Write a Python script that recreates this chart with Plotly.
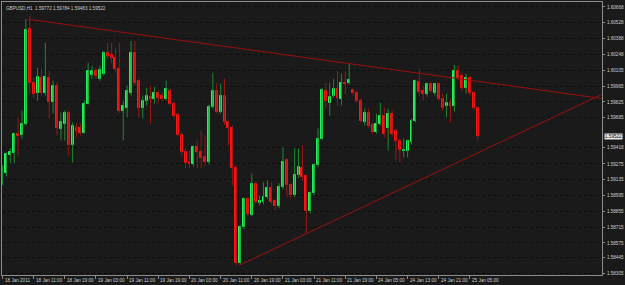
import plotly.graph_objects as go

# ---------------- data (GBPUSD, H1) ----------------
bar_index = list(range(123))

opens = [1.59103, 1.59192, 1.59351, 1.59369, 1.59545, 1.59528, 1.59634, 1.60473, 1.59996, 1.59908,
         1.60040, 1.59908, 1.60040, 1.59828, 1.59970, 1.59581, 1.59634, 1.59731, 1.59439, 1.59598,
         1.59598, 1.59554, 1.59811, 1.60067, 1.60102, 1.60031, 1.60076, 1.60261, 1.60244, 1.60217,
         1.60120, 1.59749, 1.59775, 1.59908, 1.60261, 1.60014, 1.59775, 1.59837, 1.59872, 1.59855,
         1.59908, 1.59881, 1.59855, 1.59925, 1.59811, 1.59713, 1.59536, 1.59377, 1.59289, 1.59271,
         1.59422, 1.59377, 1.59333, 1.59289, 1.59784, 1.59925, 1.59740, 1.59881, 1.59643, 1.59598,
         1.59236, 1.58396, 1.58714, 1.58962, 1.58820, 1.59094, 1.58927, 1.58935, 1.58980, 1.59059,
         1.58944, 1.58900, 1.59068, 1.59307, 1.59086, 1.58997, 1.59174, 1.59236, 1.59165, 1.58856,
         1.59015, 1.59262, 1.59501, 1.59925, 1.59819, 1.59881, 1.59943, 1.59855, 1.59996, 1.59996,
         1.59934, 1.59908, 1.59837, 1.59651, 1.59731, 1.59625, 1.59563, 1.59634, 1.59704, 1.59598,
         1.59722, 1.59572, 1.59483, 1.59386, 1.59386, 1.59466, 1.59660, 1.60005, 1.59925, 1.59899,
         1.59987, 1.59908, 1.59987, 1.59855, 1.59793, 1.59819, 1.59793, 1.60102, 1.60058, 1.59952,
         1.60040, 1.59908, 1.59772]

highs = [1.59262, 1.59377, 1.59413, 1.59554, 1.59687, 1.59749, 1.60562, 1.60588, 1.60040, 1.60129,
         1.60120, 1.60350, 1.60102, 1.60014, 1.59996, 1.59731, 1.59749, 1.59749, 1.59643, 1.59634,
         1.59634, 1.59837, 1.60173, 1.60146, 1.60129, 1.60146, 1.60279, 1.60350, 1.60350, 1.60306,
         1.60350, 1.59837, 1.59970, 1.60367, 1.60367, 1.60031, 1.59881, 1.59952, 1.59970, 1.59961,
         1.59925, 1.59908, 1.60014, 1.59943, 1.59828, 1.59731, 1.59554, 1.59413, 1.59395, 1.59439,
         1.59483, 1.59572, 1.59528, 1.59802, 1.60085, 1.59996, 1.59987, 1.60031, 1.59660, 1.59616,
         1.59262, 1.58732, 1.58980, 1.58980, 1.59192, 1.59112, 1.58997, 1.59112, 1.59130, 1.59112,
         1.58962, 1.59103, 1.59422, 1.59324, 1.59103, 1.59413, 1.59413, 1.59439, 1.59183, 1.59033,
         1.59280, 1.59590, 1.59952, 1.59996, 1.59996, 1.60031, 1.60102, 1.60076, 1.60102, 1.60164,
         1.59943, 1.59925, 1.59855, 1.59766, 1.59766, 1.59643, 1.59722, 1.59819, 1.59775, 1.59766,
         1.59749, 1.59590, 1.59501, 1.59501, 1.59492, 1.59678, 1.60023, 1.60120, 1.59970, 1.59996,
         1.60005, 1.59996, 1.59996, 1.59899, 1.59899, 1.59855, 1.60155, 1.60146, 1.60085, 1.60076,
         1.60058, 1.59925, 1.59784]

lows = [1.59086, 1.59165, 1.59280, 1.59280, 1.59351, 1.59501, 1.59616, 1.59899, 1.59864, 1.59837,
        1.59881, 1.59881, 1.59678, 1.59722, 1.59528, 1.59483, 1.59483, 1.59351, 1.59289, 1.59510,
        1.59528, 1.59545, 1.59802, 1.60031, 1.60031, 1.60014, 1.60058, 1.60208, 1.60173, 1.60085,
        1.59731, 1.59483, 1.59687, 1.59881, 1.59970, 1.59687, 1.59678, 1.59793, 1.59634, 1.59811,
        1.59811, 1.59837, 1.59837, 1.59793, 1.59678, 1.59519, 1.59351, 1.59236, 1.59236, 1.59254,
        1.59236, 1.59236, 1.59262, 1.59271, 1.59766, 1.59722, 1.59722, 1.59625, 1.59439, 1.59086,
        1.58370, 1.58378, 1.58697, 1.58812, 1.58812, 1.58918, 1.58909, 1.58918, 1.58962, 1.58918,
        1.58865, 1.58882, 1.59050, 1.58980, 1.58971, 1.58980, 1.59148, 1.59130, 1.58661, 1.58838,
        1.58997, 1.59245, 1.59483, 1.59766, 1.59704, 1.59864, 1.59793, 1.59793, 1.59899, 1.59978,
        1.59881, 1.59819, 1.59643, 1.59616, 1.59598, 1.59545, 1.59545, 1.59616, 1.59510, 1.59395,
        1.59519, 1.59307, 1.59289, 1.59333, 1.59333, 1.59448, 1.59643, 1.59881, 1.59837, 1.59872,
        1.59908, 1.59881, 1.59837, 1.59749, 1.59687, 1.59643, 1.59740, 1.60014, 1.59925, 1.59899,
        1.59881, 1.59749, 1.59483]

closes = [1.59209, 1.59360, 1.59377, 1.59545, 1.59519, 1.59634, 1.60465, 1.59996, 1.59899, 1.60049,
          1.59908, 1.60049, 1.59828, 1.59970, 1.59590, 1.59643, 1.59731, 1.59439, 1.59616, 1.59572,
          1.59554, 1.59811, 1.60102, 1.60102, 1.60058, 1.60111, 1.60261, 1.60235, 1.60217, 1.60120,
          1.59749, 1.59793, 1.59925, 1.60261, 1.59996, 1.59775, 1.59837, 1.59881, 1.59855, 1.59908,
          1.59864, 1.59855, 1.59943, 1.59811, 1.59704, 1.59536, 1.59377, 1.59280, 1.59271, 1.59422,
          1.59377, 1.59324, 1.59289, 1.59784, 1.59925, 1.59740, 1.59881, 1.59643, 1.59598, 1.59236,
          1.58396, 1.58714, 1.58962, 1.58829, 1.59094, 1.58935, 1.58944, 1.58980, 1.59059, 1.58935,
          1.58900, 1.59068, 1.59289, 1.59086, 1.58997, 1.59174, 1.59245, 1.59156, 1.58856, 1.59015,
          1.59262, 1.59501, 1.59934, 1.59837, 1.59872, 1.59943, 1.59864, 1.59996, 1.59987, 1.60023,
          1.59908, 1.59837, 1.59660, 1.59731, 1.59616, 1.59563, 1.59634, 1.59704, 1.59545, 1.59722,
          1.59545, 1.59483, 1.59395, 1.59395, 1.59475, 1.59660, 1.60014, 1.59917, 1.59899, 1.59987,
          1.59925, 1.59987, 1.59855, 1.59775, 1.59819, 1.59793, 1.60102, 1.60040, 1.59952, 1.60040,
          1.59908, 1.59775, 1.59522]

# time-axis labels (every 8 bars)
time_tick_bars = [0, 8, 16, 24, 32, 40, 48, 56, 64, 72, 80, 88, 96, 104, 112, 120]
time_tick_labels = ["18 Jan 2011", "18 Jan 11:00", "18 Jan 19:00", "19 Jan 03:00",
                    "19 Jan 11:00", "19 Jan 19:00", "20 Jan 03:00", "20 Jan 11:00",
                    "20 Jan 19:00", "21 Jan 03:00", "21 Jan 11:00", "21 Jan 19:00",
                    "24 Jan 05:00", "24 Jan 13:00", "24 Jan 21:00", "25 Jan 05:00"]

# price-axis labels
price_ticks = [1.60668, 1.60528, 1.60388, 1.60248, 1.60105, 1.59965, 1.59825, 1.59685,
               1.59418, 1.59275, 1.59135, 1.58995, 1.58855, 1.58715, 1.58575, 1.58445, 1.58305]
price_labels = ["%.5f" % p for p in price_ticks]

# triangle trend lines (bar index, price)
upper_line_x = [6.6, 153.9]
upper_line_y = [1.60559, 1.59856]
lower_line_x = [60.7, 153.9]
lower_line_y = [1.58375, 1.59893]

symbol_title = "GBPUSD,H1"
last_price = 1.59522

# ---------------- styling ----------------
BG = "#1a1a1a"
GREEN_BODY = "#22f35a"
RED_BODY = "#ff1414"
GREEN_WICK = "#1f8a30"
RED_WICK = "#9c1616"
TRI_COLOR = "#9a1010"
AXIS_COLOR = "#8c8c8c"
TEXT_COLOR = "#cfcfcf"
FONT = "Liberation Sans"
FS = 4.6

wick_g_x, wick_g_y, wick_r_x, wick_r_y = [], [], [], []
body_g_x, body_g_base, body_g_h = [], [], []
body_r_x, body_r_base, body_r_h = [], [], []
for i, o, h, l, c in zip(bar_index, opens, highs, lows, closes):
    if c >= o:
        wick_g_x += [i, i, None]
        wick_g_y += [l, h, None]
        body_g_x.append(i)
        body_g_base.append(o)
        body_g_h.append(c - o)
    else:
        wick_r_x += [i, i, None]
        wick_r_y += [l, h, None]
        body_r_x.append(i)
        body_r_base.append(c)
        body_r_h.append(o - c)

fig = go.Figure()
fig.add_trace(go.Scatter(x=wick_g_x, y=wick_g_y, mode="lines",
                         line=dict(color=GREEN_WICK, width=1), hoverinfo="skip"))
fig.add_trace(go.Scatter(x=wick_r_x, y=wick_r_y, mode="lines",
                         line=dict(color=RED_WICK, width=1), hoverinfo="skip"))
fig.add_trace(go.Bar(x=body_g_x, y=body_g_h, base=body_g_base, width=0.5,
                     marker=dict(color=GREEN_BODY, line=dict(color=GREEN_BODY, width=1))))
fig.add_trace(go.Bar(x=body_r_x, y=body_r_h, base=body_r_base, width=0.5,
                     marker=dict(color=RED_BODY, line=dict(color=RED_BODY, width=1))))
fig.add_trace(go.Scatter(x=upper_line_x, y=upper_line_y, mode="lines",
                         line=dict(color=TRI_COLOR, width=1), hoverinfo="skip"))
fig.add_trace(go.Scatter(x=lower_line_x, y=lower_line_y, mode="lines",
                         line=dict(color=TRI_COLOR, width=1), hoverinfo="skip"))

annotations = []
for b, lab in zip(time_tick_bars, time_tick_labels):
    annotations.append(dict(x=b, xref="x", y=0, yref="paper", yanchor="top", xanchor="left",
                            xshift=0, yshift=-1, text=lab, showarrow=False,
                            font=dict(family=FONT, size=FS, color=TEXT_COLOR)))
annotations.append(dict(x=0, xref="paper", y=1, yref="paper", xanchor="left", yanchor="top",
                        xshift=2, yshift=-2,
                        text="%s  %.5f %.5f %.5f %.5f" % (symbol_title, opens[-1], highs[-1], lows[-1], closes[-1]),
                        showarrow=False, font=dict(family=FONT, size=FS, color=TEXT_COLOR)))
annotations.append(dict(x=1, xref="paper", y=last_price, yref="y", xanchor="left", yanchor="middle",
                        xshift=2, text="%.5f" % last_price, showarrow=False, bgcolor="#e8e8e8",
                        borderpad=0, font=dict(family=FONT, size=FS, color="#000000")))

fig.update_layout(
    width=625, height=285,
    margin=dict(l=2, r=20, t=1, b=10),
    paper_bgcolor=BG, plot_bgcolor=BG,
    showlegend=False, barmode="overlay", bargap=0,
    annotations=annotations,
    xaxis=dict(range=[-0.128, 153.9], showgrid=False, zeroline=False,
               showline=True, linecolor=AXIS_COLOR, linewidth=1, mirror=True,
               tickmode="array", tickvals=time_tick_bars, showticklabels=False,
               ticks="outside", ticklen=3, tickcolor=AXIS_COLOR, tickwidth=1),
    yaxis=dict(range=[1.58290, 1.60712], side="right", zeroline=False,
               showgrid=True, gridcolor="#0d0d0d", gridwidth=1, griddash="dot",
               showline=True, linecolor=AXIS_COLOR, linewidth=1, mirror=True,
               tickmode="array", tickvals=price_ticks, ticktext=price_labels,
               ticks="outside", ticklen=2, tickcolor=AXIS_COLOR, tickwidth=1,
               ticklabelstandoff=1,
               tickfont=dict(family=FONT, size=FS, color=TEXT_COLOR)),
)

fig.write_html("out.html")
